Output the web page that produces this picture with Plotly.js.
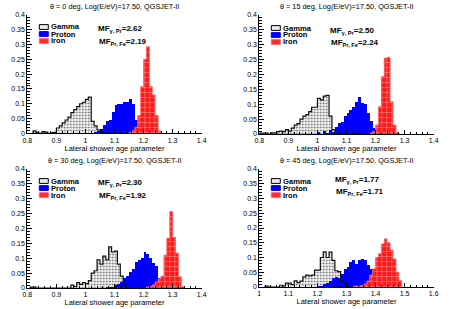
<!DOCTYPE html>
<html><head><meta charset="utf-8">
<script src="https://cdn.plot.ly/plotly-3.0.1.min.js"></script>
<style>html,body{margin:0;padding:0;background:#fff}#chart{width:463px;height:309px}</style>
</head><body><div id="chart"></div>
<script>
// ---------- data ----------
const panelTitles = [
  'θ = 0 deg, Log(E/eV)=17.50, QGSJET-II',
  'θ = 15 deg, Log(E/eV)=17.50, QGSJET-II',
  'θ = 30 deg, Log(E/eV)=17.50, QGSJET-II',
  'θ = 45 deg, Log(E/eV)=17.50, QGSJET-II'
];
const seriesNames = ['Gamma', 'Proton', 'Iron'];
const mfGammaProton = ['2.62', '2.50', '2.30', '1.77'];
const mfProtonIron = ['2.19', '2.24', '1.92', '1.71'];
const xTitle = 'Lateral shower age parameter';

// theta = 0
const gammaX0 = [0.825,0.835,0.845,0.855,0.865,0.875,0.885,0.895,0.905,0.915,0.925,0.935,0.945,0.955,0.965,0.975,0.985,0.995,1.005,1.015,1.025,1.035,1.045,1.055];
const gammaY0 = [0.008,0.003,0,0.006,0.004,0,0.002,0.003,0.018,0.025,0.035,0.045,0.055,0.07,0.08,0.09,0.1,0.105,0.115,0.122,0.04,0.025,0.012,0.003];
const protonX0 = [1.035,1.045,1.055,1.065,1.075,1.085,1.095,1.105,1.115,1.125,1.135,1.145,1.155,1.165,1.175,1.185,1.195];
const protonY0 = [0.003,0.008,0.015,0.027,0.04,0.045,0.072,0.096,0.1,0.1,0.105,0.107,0.115,0.1,0.045,0.02,0.004];
const ironX0 = [1.155,1.165,1.175,1.185,1.195,1.205,1.215,1.225,1.235,1.245,1.255];
const ironY0 = [0.003,0.008,0.02,0.06,0.158,0.25,0.293,0.158,0.13,0.06,0.008];

// theta = 15
const gammaX15 = [0.805,0.815,0.825,0.835,0.845,0.855,0.865,0.875,0.885,0.895,0.905,0.915,0.925,0.935,0.945,0.955,0.965,0.975,0.985,0.995,1.005,1.015,1.025,1.035,1.045,1.055];
const gammaY15 = [0.003,0.003,0.003,0,0.004,0.004,0.008,0.01,0.008,0.015,0.01,0.02,0.03,0.035,0.05,0.06,0.065,0.075,0.09,0.09,0.12,0.115,0.127,0.13,0.06,0.015];
const protonX15 = [1.005,1.015,1.025,1.035,1.045,1.055,1.065,1.075,1.085,1.095,1.105,1.115,1.125,1.135,1.145,1.155,1.165,1.175,1.185,1.195,1.205];
const protonY15 = [0.008,0,0.01,0.005,0.012,0.008,0.025,0.036,0.04,0.06,0.07,0.08,0.09,0.108,0.126,0.105,0.1,0.07,0.045,0.02,0.005];
const ironX15 = [1.185,1.195,1.205,1.215,1.225,1.235,1.245,1.255,1.265,1.275];
const ironY15 = [0.003,0.008,0.03,0.092,0.193,0.255,0.258,0.109,0.03,0.005];

// theta = 30
const gammaX30 = [0.815,0.825,0.835,0.845,0.855,0.865,0.875,0.885,0.895,0.905,0.915,0.925,0.935,0.945,0.955,0.965,0.975,0.985,0.995,1.005,1.015,1.025,1.035,1.045,1.055,1.065,1.075,1.085,1.095,1.105,1.115,1.125,1.135];
const gammaY30 = [0.003,0.003,0,0,0,0,0,0,0,0,0,0,0,0,0.01,0.005,0.018,0.012,0.018,0.015,0.025,0.05,0.058,0.095,0.08,0.107,0.095,0.138,0.121,0.124,0.08,0.04,0.01];
const protonX30 = [1.075,1.085,1.095,1.105,1.115,1.125,1.135,1.145,1.155,1.165,1.175,1.185,1.195,1.205,1.215,1.225,1.235,1.245,1.255,1.265];
const protonY30 = [0.003,0.005,0.005,0.01,0.015,0.02,0.035,0.04,0.054,0.065,0.088,0.094,0.1,0.12,0.115,0.1,0.085,0.075,0.035,0.005];
const ironX30 = [1.215,1.225,1.235,1.245,1.255,1.265,1.275,1.285,1.295,1.305,1.315,1.325,1.335];
const ironY30 = [0.003,0.005,0.01,0.02,0.03,0.04,0.11,0.167,0.257,0.17,0.117,0.038,0.005];

// theta = 45
const gammaX45 = [1.025,1.035,1.045,1.055,1.065,1.075,1.085,1.095,1.105,1.115,1.125,1.135,1.145,1.155,1.165,1.175,1.185,1.195,1.205,1.215,1.225,1.235,1.245,1.255,1.265,1.275,1.285,1.295,1.305];
const gammaY45 = [0.003,0,0,0,0,0.006,0.004,0.013,0.013,0.008,0.021,0.015,0.02,0.034,0.04,0.038,0.04,0.057,0.057,0.1,0.119,0.1,0.118,0.09,0.055,0.052,0.02,0.013,0.003];
const protonX45 = [1.205,1.215,1.225,1.235,1.245,1.255,1.265,1.275,1.285,1.295,1.305,1.315,1.325,1.335,1.345,1.355,1.365,1.375,1.385,1.395,1.405,1.415];
const protonY45 = [0.003,0.005,0.01,0.015,0.02,0.03,0.033,0.03,0.045,0.062,0.068,0.085,0.09,0.078,0.09,0.095,0.093,0.075,0.06,0.035,0.017,0.005];
const ironX45 = [1.325,1.335,1.345,1.355,1.365,1.375,1.385,1.395,1.405,1.415,1.425,1.435,1.445,1.455,1.465,1.475,1.485];
const ironY45 = [0.002,0.003,0.003,0.005,0.01,0.02,0.04,0.062,0.1,0.113,0.146,0.163,0.15,0.125,0.095,0.05,0.022];

const gammaX = [gammaX0, gammaX15, gammaX30, gammaX45];
const gammaY = [gammaY0, gammaY15, gammaY30, gammaY45];
const protonX = [protonX0, protonX15, protonX30, protonX45];
const protonY = [protonY0, protonY15, protonY30, protonY45];
const ironX = [ironX0, ironX15, ironX30, ironX45];
const ironY = [ironY0, ironY15, ironY30, ironY45];

// ---------- layout helpers ----------
const W = 463, H = 309;
const BW = 0.01; // bin width
const FONT = 'Liberation Sans, Arial, Helvetica, sans-serif';
const px = v => v / W;
const py = v => 1 - v / H;

const xRanges = [[0.8, 1.4], [0.8, 1.4], [0.8, 1.4], [1.0, 1.6]];
const xPix = [[27.3, 201.7], [259.3, 433.7], [27.3, 201.7], [259.3, 433.7]];
const yPix = [[15, 133.3], [15, 134], [169, 288], [169, 287]];

function outline(xc, yc) {
  const xs = [xc[0] - BW / 2], ys = [0];
  for (let i = 0; i < xc.length; i++) { xs.push(xc[i] - BW / 2); ys.push(yc[i]); }
  xs.push(xc[xc.length - 1] + BW / 2); ys.push(0);
  return { xs, ys };
}

const traces = [];
const layout = {
  width: W, height: H,
  margin: { l: 0, r: 0, t: 0, b: 0 },
  paper_bgcolor: '#fff', plot_bgcolor: '#fff',
  barmode: 'overlay', bargap: 0,
  showlegend: false,
  font: { family: FONT, color: '#000' },
  annotations: [], shapes: []
};

for (let p = 0; p < 4; p++) {
  const sfx = p === 0 ? '' : String(p + 1);
  const xa = 'x' + sfx, ya = 'y' + sfx;
  // gamma fill
  traces.push({
    type: 'bar', x: gammaX[p], y: gammaY[p], width: BW, xaxis: xa, yaxis: ya, hoverinfo: 'skip',
    marker: { color: '#f7f7f7', line: { width: 0 },
      pattern: { shape: '.', fgcolor: '#666', bgcolor: '#fafafa', size: 3, solidity: 0.28 } }
  });
  // proton
  traces.push({
    type: 'bar', x: protonX[p], y: protonY[p], width: BW, xaxis: xa, yaxis: ya, hoverinfo: 'skip',
    marker: { color: '#0000ff', line: { width: 0 } }
  });
  // iron
  traces.push({
    type: 'bar', x: ironX[p], y: ironY[p], width: BW, xaxis: xa, yaxis: ya, hoverinfo: 'skip',
    marker: { color: '#ff1a1a', line: { width: 0 },
      pattern: { shape: '+', fgcolor: 'rgba(255,225,225,0.9)', bgcolor: '#ff1a1a', size: 5, solidity: 0.14 } }
  });
  // outlines
  const go = outline(gammaX[p], gammaY[p]);
  traces.push({ type: 'scatter', mode: 'lines', x: go.xs, y: go.ys, xaxis: xa, yaxis: ya, hoverinfo: 'skip',
    line: { color: '#111', width: 1.2, shape: 'hv' } });
  const io = outline(ironX[p], ironY[p]);
  traces.push({ type: 'scatter', mode: 'lines', x: io.xs, y: io.ys, xaxis: xa, yaxis: ya, hoverinfo: 'skip',
    line: { color: '#ff6a6a', width: 1, shape: 'hv' } });

  const xd = [px(xPix[p][0]), px(xPix[p][1])];
  const yd = [py(yPix[p][1]), py(yPix[p][0])];
  layout['xaxis' + sfx] = {
    domain: xd, anchor: ya, range: xRanges[p], dtick: 0.1, tick0: xRanges[p][0],
    showgrid: false, zeroline: false, showline: true, linecolor: '#000', linewidth: 1,
    ticks: 'inside', ticklen: 4, tickwidth: 1, tickcolor: '#000',
    minor: { ticks: 'inside', dtick: 0.02, ticklen: 2, tickcolor: '#000', showgrid: false },
    tickfont: { family: FONT, size: 7, color: '#000' },
    title: { text: xTitle, font: { family: FONT, size: 7.5, color: '#000' }, standoff: 0 },
    fixedrange: true
  };
  layout['yaxis' + sfx] = {
    domain: yd, anchor: xa, range: [0, 0.4], dtick: 0.05, tick0: 0,
    showgrid: false, zeroline: false, showline: true, linecolor: '#000', linewidth: 1,
    ticks: 'inside', ticklen: 5, tickwidth: 1, tickcolor: '#000',
    minor: { ticks: 'inside', dtick: 0.01, ticklen: 2.5, tickcolor: '#000', showgrid: false },
    tickfont: { family: FONT, size: 7, color: '#000' },
    fixedrange: true
  };

  const cx = (xPix[p][0] + xPix[p][1]) / 2;
  const top = p < 2 ? 0 : 154;
  // panel title
  layout.annotations.push({ xref: 'paper', yref: 'paper', x: px(cx), y: py(top + 6.8), xanchor: 'center', yanchor: 'middle',
    text: panelTitles[p], showarrow: false, borderpad: 0, font: { family: FONT, size: 7.3, color: '#000' } });
  // legend (manual, ROOT style)
  const lx = xPix[p][0] + 12;
  const ly = top + (p % 2 === 0 ? 27 : 28) - (p === 3 ? 1 : 0);
  const fills = ['#ececec', '#0000ff', '#ff2a2a'];
  const borders = ['#000', '#0000ff', '#ff6a6a'];
  for (let k = 0; k < 3; k++) {
    const yy = ly + k * 7;
    layout.shapes.push({ type: 'rect', xref: 'paper', yref: 'paper',
      x0: px(lx), x1: px(lx + 9), y0: py(yy + 2.4), y1: py(yy - 2.4),
      fillcolor: fills[k], line: { color: borders[k], width: 1 } });
    layout.annotations.push({ xref: 'paper', yref: 'paper', x: px(lx + 11), y: py(yy), xanchor: 'left', yanchor: 'middle',
      text: '<b>' + seriesNames[k] + '</b>', showarrow: false, borderpad: 0, font: { family: FONT, size: 7.6, color: '#000' } });
  }
  // MF labels
  const mfx = xPix[p][0] + (p === 3 ? 75 : 70);
  const mfy1 = top + (p === 3 ? 25.5 : (p === 1 ? 31 : 29.3));
  const mfy2 = top + (p === 3 ? 37.5 : (p === 1 ? 42.7 : 41.7));
  layout.annotations.push({ xref: 'paper', yref: 'paper', x: px(mfx), y: py(mfy1), xanchor: 'left', yanchor: 'middle',
    text: '<b>MF<sub>γ, Pr</sub>=' + mfGammaProton[p] + '</b>', showarrow: false, borderpad: 0, font: { family: FONT, size: 8, color: '#000' } });
  layout.annotations.push({ xref: 'paper', yref: 'paper', x: px(mfx + 1), y: py(mfy2), xanchor: 'left', yanchor: 'middle',
    text: '<b>MF<sub>Pr, Fe</sub>=' + mfProtonIron[p] + '</b>', showarrow: false, borderpad: 0, font: { family: FONT, size: 8, color: '#000' } });
}

Plotly.newPlot('chart', traces, layout, { staticPlot: true, displayModeBar: false });
</script>
</body></html>
